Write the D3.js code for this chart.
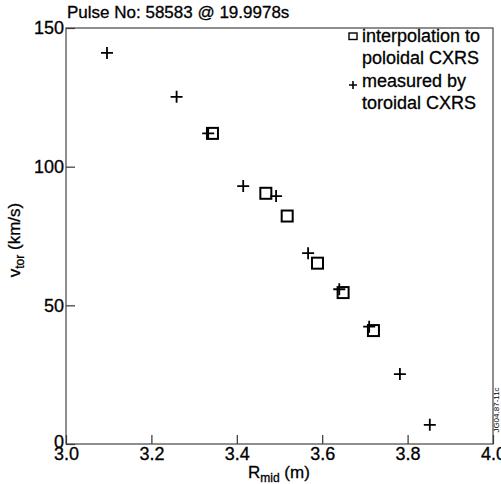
<!DOCTYPE html>
<html>
<head>
<meta charset="utf-8">
<script src="https://cdn.jsdelivr.net/npm/d3@7"></script>
<style>
  body { margin: 0; background: #fff; }
  svg { font-family: "Liberation Sans", Arial, sans-serif; }
  .tick text { font-size: 18px; fill: #000; stroke: #000; stroke-width: 0.3px; }
</style>
</head>
<body>
<svg id="chart" width="501" height="484"></svg>
<script>
// values
var crossR = [3.096, 3.259, 3.333, 3.415, 3.492, 3.567, 3.640, 3.710, 3.782, 3.852]; // measured by toroidal CXRS
var crossV = [141, 125.2, 112, 93, 89.4, 68.8, 55.8, 42.3, 25.2, 6.9];
var squareR = [3.343, 3.468, 3.518, 3.589, 3.649, 3.720]; // interpolation to poloidal CXRS
var squareV = [112, 90.4, 82.2, 65.2, 54.6, 40.9];
var xTicks = [3.0, 3.2, 3.4, 3.6, 3.8, 4.0];
var yTicks = [0, 50, 100, 150];

var svg = d3.select("#chart"),
    margin = {top: 28, left: 66, right: 8, bottom: 40},
    width = 501 - margin.left - margin.right,
    height = 484 - margin.top - margin.bottom;

var x = d3.scaleLinear().domain([3.0, 4.0]).range([0, width]);
var y = d3.scaleLinear().domain([0, 150]).range([height, 0]);

var g = svg.append("g")
    .attr("transform", "translate(" + margin.left + "," + margin.top + ")");

// ticks point inward
var xAxis = g.append("g")
    .attr("transform", "translate(0," + height + ")")
    .call(d3.axisBottom(x).tickValues(xTicks).tickSize(-9).tickPadding(3)
        .tickFormat(d3.format(".1f")));

var yAxis = g.append("g")
    .call(d3.axisLeft(y).tickValues(yTicks).tickSize(-9).tickPadding(2)
        .tickFormat(d3.format("d")));

[xAxis, yAxis].forEach(function(a) {
    a.select(".domain").remove();
    a.attr("font-family", null).attr("font-size", null);
    a.selectAll(".tick line").attr("stroke", "#333").attr("stroke-width", 1.2);
});
// the 0 label sits a little above its tick, clear of 3.0
yAxis.selectAll(".tick text").filter(function(d) { return d === 0; }).attr("dy", "0.2em");

// frame round the plot
g.append("rect")
    .attr("width", width)
    .attr("height", height)
    .attr("fill", "none")
    .attr("stroke", "#444")
    .attr("stroke-width", 1.2);

// crosses
g.selectAll(".cross")
    .data(crossR)
    .enter().append("path")
    .attr("class", "cross")
    .attr("transform", function(d, i) { return "translate(" + x(d) + "," + y(crossV[i]) + ")"; })
    .attr("d", "M-6,0H6M0,-6V6")
    .attr("stroke", "#000")
    .attr("stroke-width", 1.8);

// squares
g.selectAll(".sq")
    .data(squareR)
    .enter().append("rect")
    .attr("class", "sq")
    .attr("x", function(d) { return x(d) - 5.5; })
    .attr("y", function(d, i) { return y(squareV[i]) - 5.5; })
    .attr("width", 11)
    .attr("height", 11)
    .attr("fill", "none")
    .attr("stroke", "#000")
    .attr("stroke-width", 2);

// legend
svg.append("rect")
    .attr("x", 349).attr("y", 33).attr("width", 8).attr("height", 6.5)
    .attr("fill", "none").attr("stroke", "#000").attr("stroke-width", 1.4);
svg.append("path")
    .attr("d", "M349,85H357M353,81V89")
    .attr("stroke", "#000").attr("stroke-width", 1.6);

var legendLines = [["interpolation to", 42], ["poloidal CXRS", 64], ["measured by", 87], ["toroidal CXRS", 109]];
legendLines.forEach(function(l) {
    svg.append("text")
        .attr("x", 362).attr("y", l[1])
        .attr("font-size", "18px")
        .attr("stroke", "#000").attr("stroke-width", 0.3)
        .text(l[0]);
});

// title
svg.append("text")
    .attr("x", 67).attr("y", 18)
    .attr("font-size", "17px")
    .attr("stroke", "#000").attr("stroke-width", 0.3)
    .text("Pulse No: 58583 @ 19.9978s");

// axis labels
var xl = svg.append("text")
    .attr("x", 248).attr("y", 478)
    .attr("font-size", "17px")
    .attr("stroke", "#000").attr("stroke-width", 0.3);
xl.append("tspan").text("R");
xl.append("tspan").attr("font-size", "12px").attr("dy", 4).text("mid");
xl.append("tspan").attr("dy", -4).text(" (m)");

var yl = svg.append("text")
    .attr("transform", "translate(20,240) rotate(-90)")
    .attr("text-anchor", "middle")
    .attr("font-size", "17px")
    .attr("stroke", "#000").attr("stroke-width", 0.3);
yl.append("tspan").text("v");
yl.append("tspan").attr("font-size", "12px").attr("dy", 4).text("tor");
yl.append("tspan").attr("dy", -4).text(" (km/s)");

// figure id on the right edge
svg.append("text")
    .attr("transform", "translate(499,410) rotate(-90)")
    .attr("text-anchor", "middle")
    .attr("font-size", "8px")
    .text("JG04.87-11c");
</script>
</body>
</html>
